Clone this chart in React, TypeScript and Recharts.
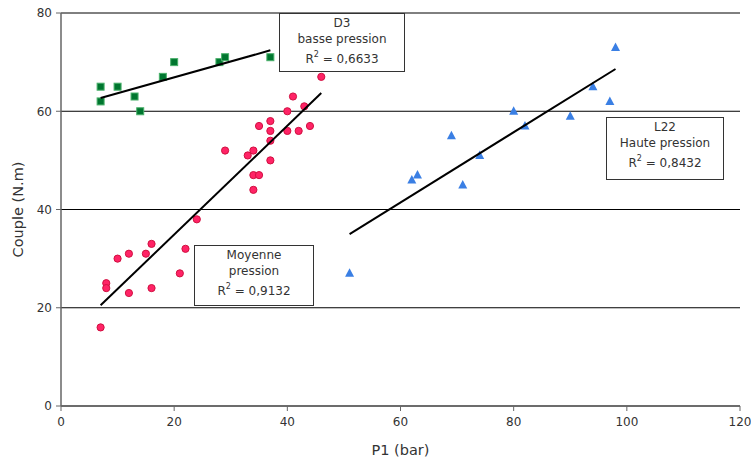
import * as React from "react";
import {
  CartesianGrid,
  Scatter,
  ScatterChart,
  XAxis,
  YAxis,
} from "recharts";

// Torque vs P1 pressure, three pump families with linear trend lines.

const FONT = "'DejaVu Sans', Verdana, sans-serif";
const TEXT = "#333";

const X_TICKS = [0, 20, 40, 60, 80, 100, 120];
const Y_TICKS = [0, 20, 40, 60, 80];

// D3 - basse pression (green squares)
const d3X = [7, 7, 10, 13, 14, 18, 20, 28, 29, 37];
const d3Y = [65, 62, 65, 63, 60, 67, 70, 70, 71, 71];

// Moyenne pression (pink circles)
const moyX = [7, 8, 8, 10, 12, 12, 15, 16, 16, 21, 22, 24, 29, 33, 34, 34, 35, 34, 35, 37, 37, 37, 37, 40, 40, 41, 42, 43, 44, 46];
const moyY = [16, 25, 24, 30, 31, 23, 31, 33, 24, 27, 32, 38, 52, 51, 52, 47, 47, 44, 57, 58, 56, 54, 50, 60, 56, 63, 56, 61, 57, 67];

// L22 - haute pression (blue triangles)
const l22X = [51, 62, 63, 69, 71, 74, 80, 82, 90, 94, 97, 98];
const l22Y = [27, 46, 47, 55, 45, 51, 60, 57, 59, 65, 62, 73];

// trend line end points
const d3TrendX = [7, 37];
const d3TrendY = [62.7, 72.4];
const moyTrendX = [7, 46];
const moyTrendY = [20.5, 63.7];
const l22TrendX = [51, 98];
const l22TrendY = [35, 68.6];

const zip = (xs: number[], ys: number[]) => xs.map((x, i) => ({ x, y: ys[i] }));

function Square(props: any) {
  const { cx, cy } = props;
  return <rect x={cx - 3.5} y={cy - 3.5} width={7} height={7} fill="#00762f" stroke="#49b06a" strokeWidth={1} />;
}

function Dot(props: any) {
  const { cx, cy } = props;
  return <circle cx={cx} cy={cy} r={3.6} fill="#ff2366" stroke="#d01040" strokeWidth={1} />;
}

function Tri(props: any) {
  const { cx, cy } = props;
  return <polygon points={`${cx},${cy - 5} ${cx - 4.5},${cy + 3.5} ${cx + 4.5},${cy + 3.5}`} fill="#3a7fe4" />;
}

const NoShape = () => <g />;

function Box({ left, top, width, height, lines, r2 }: {
  left: number; top: number; width: number; height: number; lines: string[]; r2: string;
}) {
  return (
    <div
      style={{
        position: "absolute",
        left,
        top,
        width,
        height,
        boxSizing: "border-box",
        border: "1.5px solid #333",
        background: "#fff",
        fontFamily: FONT,
        fontSize: 12,
        color: TEXT,
        textAlign: "center",
        lineHeight: "16px",
        paddingTop: 1,
      }}
    >
      {lines.map((l) => (
        <div key={l}>{l}</div>
      ))}
      <div style={{ marginTop: 4 }}>
        R<sup style={{ fontSize: 8, verticalAlign: "6px", lineHeight: 0 }}>2</sup> = {r2}
      </div>
    </div>
  );
}

export default function App() {
  const tick = { fill: TEXT, fontSize: 12, fontFamily: FONT };
  return (
    <div style={{ position: "absolute", left: 0, top: 0, width: 751, height: 462, background: "#fff" }}>
      <ScatterChart width={751} height={462} margin={{ top: 13, right: 11, bottom: 0, left: 0 }}>
        <CartesianGrid vertical={false} stroke="#000" strokeWidth={1} />
        <XAxis
          type="number"
          dataKey="x"
          domain={[0, 120]}
          ticks={X_TICKS}
          interval={0}
          height={56}
          tick={tick}
          tickSize={5}
          tickMargin={6}
          axisLine={{ stroke: "#666", strokeWidth: 1.5 }}
          tickLine={{ stroke: "#666" }}
          label={{ value: "P1 (bar)", position: "insideBottom", offset: 7, fill: TEXT, fontSize: 14.5, fontFamily: FONT }}
        />
        <YAxis
          type="number"
          dataKey="y"
          domain={[0, 80]}
          ticks={Y_TICKS}
          interval={0}
          width={61}
          tick={tick}
          tickSize={5}
          tickMargin={4}
          axisLine={{ stroke: "#666", strokeWidth: 1.5 }}
          tickLine={{ stroke: "#666" }}
          label={{ value: "Couple (N.m)", angle: -90, position: "insideLeft", offset: 18, fill: TEXT, fontSize: 14.5, fontFamily: FONT, style: { textAnchor: "middle" } }}
        />
        <Scatter data={zip(d3X, d3Y)} shape={<Square />} isAnimationActive={false} />
        <Scatter data={zip(moyX, moyY)} shape={<Dot />} isAnimationActive={false} />
        <Scatter data={zip(l22X, l22Y)} shape={<Tri />} isAnimationActive={false} />
        <Scatter data={zip(d3TrendX, d3TrendY)} line={{ stroke: "#000", strokeWidth: 2 }} shape={<NoShape />} isAnimationActive={false} />
        <Scatter data={zip(moyTrendX, moyTrendY)} line={{ stroke: "#000", strokeWidth: 2 }} shape={<NoShape />} isAnimationActive={false} />
        <Scatter data={zip(l22TrendX, l22TrendY)} line={{ stroke: "#000", strokeWidth: 2 }} shape={<NoShape />} isAnimationActive={false} />
      </ScatterChart>
      <Box left={279} top={13} width={126} height={59} lines={["D3", "basse pression"]} r2="0,6633" />
      <Box left={194} top={245} width={120} height={61} lines={["Moyenne", "pression"]} r2="0,9132" />
      <Box left={606} top={117} width={118} height={63} lines={["L22", "Haute pression"]} r2="0,8432" />
    </div>
  );
}
